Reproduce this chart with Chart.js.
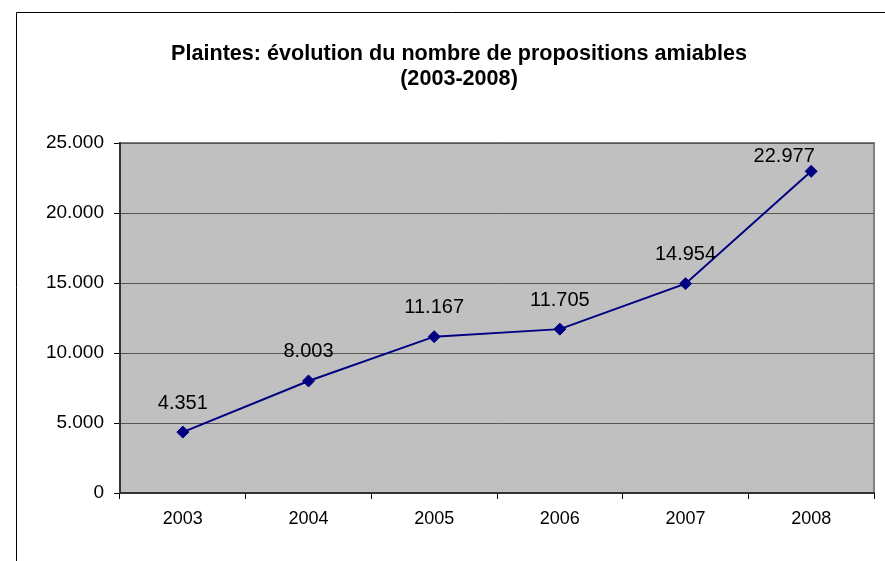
<!DOCTYPE html>
<html>
<head>
<meta charset="utf-8">
<script src="https://cdn.jsdelivr.net/npm/chart.js@4.4.0/dist/chart.umd.min.js"></script>
<style>
  html, body { margin: 0; padding: 0; background: #fff; }
  #wrap { width: 885px; height: 561px; }
</style>
</head>
<body>
<div id="wrap"><canvas id="plaintes"></canvas></div>
<script>
  // données
  var annees = ["2003", "2004", "2005", "2006", "2007", "2008"];
  var propositions = [4351, 8003, 11167, 11705, 14954, 22977];
  var graduations = [0, 5000, 10000, 15000, 20000, 25000];
  var titre = ["Plaintes: évolution du nombre de propositions amiables", "(2003-2008)"];

  var police = "'Liberation Sans', Arial, Helvetica, sans-serif";

  // 25000 -> "25.000"
  function milliers(v) {
    return String(Math.round(v)).replace(/\B(?=(\d{3})+(?!\d))/g, ".");
  }

  // décalage des étiquettes par rapport au point
  var decalages = [[0, -29], [0, -29], [0, -29], [0, -29], [0, -29], [-27, -15]];

  var cadre = {
    id: 'cadre',
    beforeDraw: function(chart) {
      var c = chart.ctx, a = chart.chartArea;
      c.save();
      c.fillStyle = '#fff';
      c.fillRect(0, 0, chart.width, chart.height);
      // bordure du graphique
      c.strokeStyle = '#000';
      c.lineWidth = 1;
      c.beginPath();
      c.moveTo(16.5, chart.height + 2);
      c.lineTo(16.5, 12.5);
      c.lineTo(chart.width + 2, 12.5);
      c.stroke();
      // titre sur deux lignes
      c.fillStyle = '#000';
      c.font = 'bold 21.6px ' + police;
      c.textAlign = 'center';
      c.textBaseline = 'middle';
      c.fillText(titre[0], 459, 54);
      c.fillText(titre[1], 459, 79);
      // zone de traçage grise
      c.fillStyle = '#c0c0c0';
      c.fillRect(a.left, a.top, a.right - a.left, a.bottom - a.top);
      c.strokeStyle = '#808080';
      c.lineWidth = 2;
      c.beginPath();
      c.moveTo(a.left, a.top);
      c.lineTo(a.right, a.top);
      c.lineTo(a.right, a.bottom);
      c.stroke();
      c.restore();
    }
  };

  var etiquettes = {
    id: 'etiquettes',
    afterDatasetsDraw: function(chart) {
      var c = chart.ctx;
      var meta = chart.getDatasetMeta(0);
      c.save();
      c.font = '20px ' + police;
      c.fillStyle = '#000';
      c.textAlign = 'center';
      c.textBaseline = 'middle';
      meta.data.forEach(function(pt, i) {
        var d = decalages[i];
        c.fillText(milliers(propositions[i]), pt.x + d[0], pt.y + d[1]);
      });
      c.restore();
    }
  };

  var ctx = document.getElementById('plaintes').getContext('2d');
  var graphique = new Chart(ctx, {
    type: 'line',
    data: {
      labels: annees,
      datasets: [{
        data: propositions,
        borderColor: '#000080',
        borderWidth: 2,
        backgroundColor: '#000080',
        pointStyle: 'rectRot',
        pointRadius: 6,
        pointBorderWidth: 1,
        pointBorderColor: '#000080',
        pointBackgroundColor: '#000080',
        tension: 0,
        fill: false
      }]
    },
    options: {
      responsive: true,
      maintainAspectRatio: false,
      animation: false,
      layout: { padding: { top: 143, right: 11, bottom: 0, left: 0 } },
      plugins: {
        legend: { display: false },
        tooltip: { enabled: false },
        title: { display: false }
      },
      scales: {
        x: {
          offset: true,
          grid: {
            offset: true,
            drawOnChartArea: false,
            drawTicks: true,
            tickLength: 6,
            color: '#000'
          },
          border: { color: '#333', width: 2 },
          ticks: {
            color: '#000',
            padding: 9,
            font: { family: police, size: 18 }
          },
          afterFit: function(s) { s.height = 68; }
        },
        y: {
          min: 0,
          max: 25000,
          afterBuildTicks: function(s) {
            s.ticks = graduations.map(function(v) { return { value: v }; });
          },
          grid: {
            color: '#555',
            lineWidth: 1,
            tickLength: 6,
            tickColor: '#000'
          },
          border: { color: '#333', width: 2 },
          ticks: {
            color: '#000',
            padding: 10,
            font: { family: police, size: 19 },
            callback: function(v) { return milliers(v); }
          },
          afterFit: function(s) { s.width = 120; }
        }
      }
    },
    plugins: [cadre, etiquettes]
  });
</script>
</body>
</html>
